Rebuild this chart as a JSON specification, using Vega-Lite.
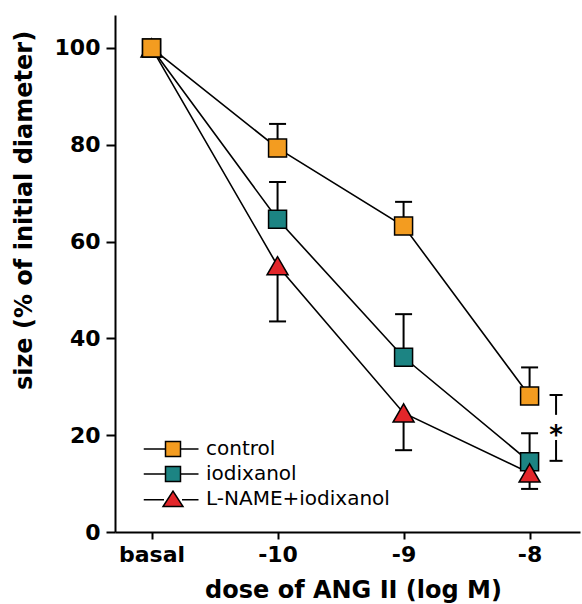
{
  "$schema": "https://vega.github.io/schema/vega-lite/v6.json",
  "width": 465,
  "height": 517,
  "autosize": "none",
  "padding": {"left": 115, "top": 15, "right": 2, "bottom": 72},
  "background": "white",
  "config": {"view": {"stroke": null}, "font": "DejaVu Sans"},
  "datasets": {
    "main": [
      {"dose": -11, "group": "L-NAME+iodixanol", "mean": 100, "errEnd": null},
      {"dose": -11, "group": "iodixanol", "mean": 100, "errEnd": null},
      {"dose": -11, "group": "control", "mean": 100, "errEnd": null},
      {"dose": -10, "group": "control", "mean": 79.3, "errEnd": 84.3},
      {"dose": -10, "group": "iodixanol", "mean": 64.6, "errEnd": 72.3},
      {"dose": -10, "group": "L-NAME+iodixanol", "mean": 55.0, "errEnd": 43.5},
      {"dose": -9, "group": "control", "mean": 63.2, "errEnd": 68.2},
      {"dose": -9, "group": "iodixanol", "mean": 36.1, "errEnd": 45.0},
      {"dose": -9, "group": "L-NAME+iodixanol", "mean": 24.6, "errEnd": 16.9},
      {"dose": -8, "group": "control", "mean": 28.1, "errEnd": 34.0},
      {"dose": -8, "group": "iodixanol", "mean": 14.5, "errEnd": 20.4},
      {"dose": -8, "group": "L-NAME+iodixanol", "mean": 12.2, "errEnd": 8.9}
    ],
    "sigbars": [
      {"x": -7.79, "y": 28.3, "y2": 24.2},
      {"x": -7.79, "y": 19.0, "y2": 14.7}
    ],
    "sigcaps": [
      {"x": -7.79, "y": 28.3},
      {"x": -7.79, "y": 14.7}
    ],
    "sigtext": [
      {"x": -7.79, "y": 21.1, "label": "*"}
    ]
  },
  "encoding": {
    "x": {
      "field": "dose",
      "type": "quantitative",
      "scale": {"domain": [-11.29, -7.6], "nice": false, "zero": false},
      "axis": {
        "values": [-11, -10, -9, -8],
        "labelExpr": "datum.value == -11 ? 'basal' : '' + datum.value",
        "title": "dose of ANG II (log M)",
        "grid": false,
        "domainColor": "black",
        "domainWidth": 2,
        "tickColor": "black",
        "tickWidth": 2,
        "tickSize": 7,
        "labelFont": "DejaVu Sans",
        "labelFontWeight": "bold",
        "labelFontSize": 22,
        "labelColor": "black",
        "labelPadding": 5,
        "labelFlush": false,
        "labelOverlap": false,
        "titleFont": "DejaVu Sans",
        "titleFontSize": 24,
        "titleFontWeight": "bold",
        "titleColor": "black",
        "titleX": 238,
        "titleY": 58,
        "titleBaseline": "middle",
        "titleAlign": "center"
      }
    },
    "y": {
      "field": "mean",
      "type": "quantitative",
      "scale": {"domain": [0, 106.8], "nice": false, "zero": false},
      "axis": {
        "values": [0, 20, 40, 60, 80, 100],
        "title": "size (% of initial diameter)",
        "grid": false,
        "domainColor": "black",
        "domainWidth": 2,
        "tickColor": "black",
        "tickWidth": 2,
        "tickSize": 9,
        "labelFont": "DejaVu Sans",
        "labelFontWeight": "bold",
        "labelFontSize": 22,
        "labelColor": "black",
        "labelPadding": 6,
        "labelFlush": false,
        "labelOverlap": false,
        "titleFont": "DejaVu Sans",
        "titleFontSize": 24,
        "titleFontWeight": "bold",
        "titleColor": "black",
        "titleAngle": -90,
        "titleX": -91,
        "titleY": 195,
        "titleBaseline": "middle",
        "titleAlign": "center"
      }
    }
  },
  "layer": [
    {
      "data": {"name": "main"},
      "mark": {"type": "line", "color": "black", "strokeWidth": 1.6},
      "encoding": {"detail": {"field": "group"}}
    },
    {
      "data": {"name": "main"},
      "transform": [{"filter": "datum.errEnd != null"}],
      "mark": {"type": "rule", "color": "black", "strokeWidth": 2},
      "encoding": {"y2": {"field": "errEnd"}}
    },
    {
      "data": {"name": "main"},
      "transform": [{"filter": "datum.errEnd != null"}],
      "mark": {"type": "point", "shape": "stroke", "filled": false, "color": "black", "strokeWidth": 2, "size": 289, "opacity": 1},
      "encoding": {"y": {"field": "errEnd", "type": "quantitative"}}
    },
    {
      "data": {"name": "main"},
      "mark": {
        "type": "point",
        "filled": true,
        "stroke": "black",
        "strokeWidth": 1.5,
        "opacity": 1,
        "shape": {"expr": "datum.group === 'L-NAME+iodixanol' ? 'triangle-up' : 'square'"},
        "size": {"expr": "datum.group === 'L-NAME+iodixanol' ? 441 : 324"}
      },
      "encoding": {
        "color": {
          "field": "group",
          "type": "nominal",
          "scale": {"domain": ["control", "iodixanol", "L-NAME+iodixanol"], "range": ["#F39C20", "#1C8483", "#E2262A"]}
        }
      }
    },
    {
      "data": {"name": "main"},
      "transform": [{"filter": "false"}],
      "mark": {"type": "point", "filled": true, "stroke": "black", "strokeWidth": 1.5, "opacity": 1},
      "encoding": {
        "color": {
          "field": "group",
          "type": "nominal",
          "scale": {"domain": ["control", "iodixanol", "L-NAME+iodixanol"], "range": ["#F39C20", "#1C8483", "#E2262A"]},
          "legend": {
            "orient": "none",
            "legendX": 48,
            "legendY": 424,
            "title": null,
            "padding": 0,
            "labelFont": "DejaVu Sans",
            "labelFontSize": 20,
            "labelColor": "black",
            "labelLimit": 400,
            "symbolSize": 225,
            "labelOffset": 23,
            "rowPadding": 3,
            "symbolStrokeColor": "black",
            "symbolStrokeWidth": 1.5,
            "symbolOpacity": 1
          }
        },
        "shape": {
          "field": "group",
          "type": "nominal",
          "scale": {"domain": ["control", "iodixanol", "L-NAME+iodixanol"], "range": ["M-3.9,0H-1M1,0H3.4M-1,-1H1V1H-1Z", "M-3.9,0H-1M1,0H3.4M-1,-1H1V1H-1Z", "M-3.9,0.1H-1.2M1.2,0.1H3.4M0,-1.05L1.33,1H-1.33Z"]},
          "legend": {
            "orient": "none",
            "legendX": 48,
            "legendY": 424,
            "title": null,
            "padding": 0,
            "labelFont": "DejaVu Sans",
            "labelFontSize": 20,
            "labelColor": "black",
            "labelLimit": 400,
            "symbolSize": 225,
            "labelOffset": 23,
            "rowPadding": 3,
            "symbolStrokeColor": "black",
            "symbolStrokeWidth": 1.5,
            "symbolOpacity": 1
          }
        }
      }
    },
    {
      "data": {"name": "sigbars"},
      "mark": {"type": "rule", "color": "black", "strokeWidth": 2},
      "encoding": {
        "x": {"field": "x", "type": "quantitative"},
        "y": {"field": "y", "type": "quantitative"},
        "y2": {"field": "y2"}
      }
    },
    {
      "data": {"name": "sigcaps"},
      "mark": {"type": "point", "shape": "stroke", "filled": false, "color": "black", "strokeWidth": 2, "size": 169, "opacity": 1},
      "encoding": {
        "x": {"field": "x", "type": "quantitative"},
        "y": {"field": "y", "type": "quantitative"}
      }
    },
    {
      "data": {"name": "sigtext"},
      "mark": {"type": "text", "font": "DejaVu Sans", "fontWeight": "bold", "fontSize": 26, "color": "black", "baseline": "alphabetic", "align": "center", "dy": 14},
      "encoding": {
        "x": {"field": "x", "type": "quantitative"},
        "y": {"field": "y", "type": "quantitative"},
        "text": {"field": "label"}
      }
    }
  ]
}
